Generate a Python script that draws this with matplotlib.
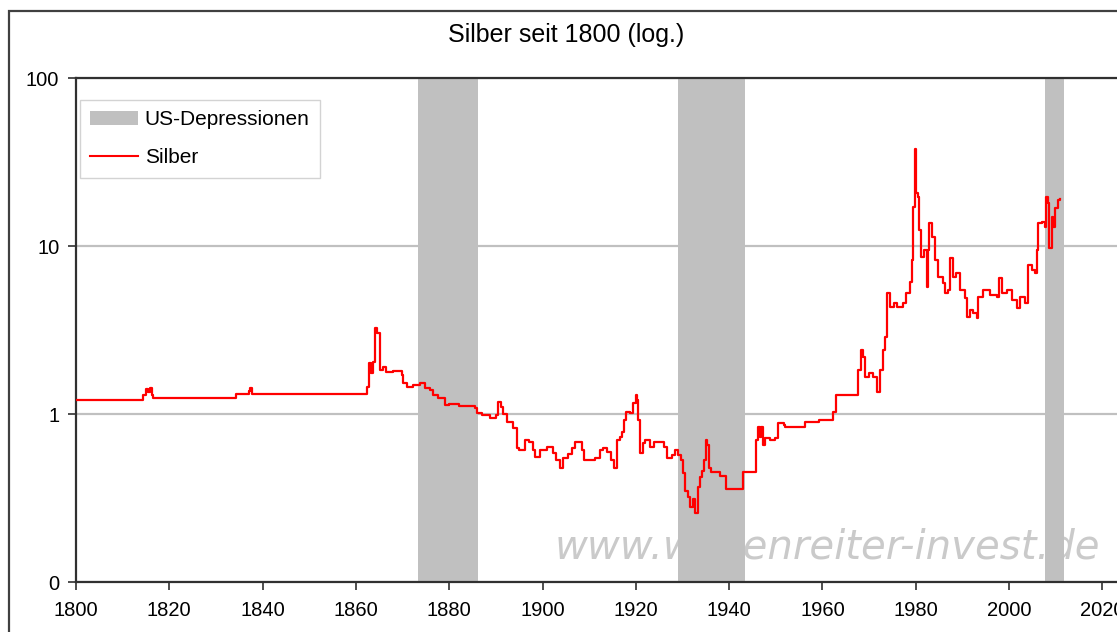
import matplotlib
matplotlib.use("Agg")
import matplotlib.pyplot as plt
from matplotlib.patches import Rectangle, Patch
from matplotlib.lines import Line2D

plt.rcParams['font.family'] = ['Liberation Sans', 'DejaVu Sans']

# ---- data ----
years = [1800.0, 1814.4, 1814.9, 1815.4, 1815.8, 1816.3, 1816.6, 1834.3, 1837.0, 1837.3,
         1837.7, 1862.4, 1862.8, 1863.2, 1863.6, 1864.0, 1864.6, 1865.2, 1865.8, 1866.5,
         1868.0, 1869.8, 1870.2, 1871.0, 1872.3, 1873.7, 1874.8, 1875.9, 1876.5, 1877.5,
         1879.0, 1880.0, 1882.0, 1884.0, 1885.5, 1886.0, 1887.0, 1888.7, 1890.0, 1890.5,
         1891.0, 1891.5, 1892.4, 1893.7, 1894.5, 1895.0, 1896.2, 1897.2, 1898.0, 1898.4,
         1899.5, 1901.0, 1902.2, 1903.0, 1903.8, 1904.4, 1905.5, 1906.3, 1907.0, 1908.5,
         1909.0, 1910.2, 1911.3, 1912.3, 1913.0, 1913.8, 1914.7, 1915.3, 1916.0, 1916.6,
         1917.0, 1917.5, 1918.0, 1918.7, 1919.4, 1920.0, 1920.2, 1920.5, 1921.0, 1921.5,
         1922.0, 1923.0, 1924.0, 1925.4, 1926.0, 1926.7, 1927.8, 1928.4, 1929.0, 1929.7,
         1930.1, 1930.5, 1931.2, 1931.6, 1932.3, 1932.7, 1933.3, 1933.8, 1934.2, 1934.6,
         1935.1, 1935.3, 1935.7, 1936.1, 1938.0, 1939.3, 1943.0, 1945.8, 1946.2, 1946.6,
         1946.9, 1947.3, 1947.7, 1948.8, 1949.8, 1950.5, 1951.8, 1952.0, 1956.3, 1959.3,
         1962.3, 1963.0, 1967.7, 1968.3, 1968.7, 1969.1, 1970.0, 1970.9, 1971.7, 1972.4,
         1973.0, 1973.4, 1973.9, 1974.5, 1975.3, 1976.0, 1977.3, 1978.0, 1978.8, 1979.2,
         1979.5, 1979.8, 1980.1, 1980.5, 1980.7, 1981.1, 1981.8, 1982.4, 1982.6, 1982.9,
         1983.5, 1984.1, 1984.8, 1985.8, 1986.3, 1986.9, 1987.3, 1988.0, 1988.6, 1989.5,
         1990.6, 1991.0, 1991.6, 1992.3, 1993.1, 1993.3, 1994.5, 1995.9, 1997.4, 1997.9,
         1998.5, 1999.6, 2000.6, 2001.7, 2002.4, 2003.4, 2004.1, 2004.9, 2005.6, 2006.0,
         2006.3, 2007.1, 2007.7, 2007.9, 2008.4, 2008.6, 2009.2, 2009.5, 2009.9, 2010.6,
         2010.9]
silber = [1.21, 1.30, 1.40, 1.35, 1.43, 1.30, 1.25, 1.31, 1.38, 1.43,
          1.31, 1.45, 2.00, 1.75, 2.04, 3.25, 3.03, 1.83, 1.90, 1.78,
          1.80, 1.70, 1.53, 1.45, 1.49, 1.53, 1.43, 1.39, 1.30, 1.25,
          1.13, 1.15, 1.12, 1.12, 1.08, 1.01, 0.98, 0.95, 0.99, 1.18,
          1.10, 1.00, 0.90, 0.83, 0.63, 0.61, 0.70, 0.68, 0.61, 0.555,
          0.61, 0.64, 0.585, 0.53, 0.48, 0.55, 0.58, 0.63, 0.68, 0.61,
          0.53, 0.53, 0.55, 0.61, 0.63, 0.59, 0.53, 0.48, 0.70, 0.73,
          0.78, 0.92, 1.03, 1.01, 1.16, 1.30, 1.21, 0.92, 0.585, 0.67,
          0.70, 0.64, 0.68, 0.68, 0.64, 0.55, 0.57, 0.61, 0.57, 0.53,
          0.445, 0.35, 0.32, 0.28, 0.31, 0.257, 0.37, 0.42, 0.46, 0.53,
          0.70, 0.65, 0.48, 0.45, 0.43, 0.36, 0.45, 0.70, 0.84, 0.73,
          0.84, 0.65, 0.72, 0.70, 0.72, 0.88, 0.86, 0.84, 0.90, 0.92,
          1.03, 1.30, 1.83, 2.40, 2.18, 1.66, 1.75, 1.66, 1.35, 1.83,
          2.40, 2.87, 5.25, 4.33, 4.60, 4.33, 4.57, 5.25, 6.10, 8.30,
          17.0, 38.0, 20.7, 19.5, 12.5, 8.6, 9.5, 5.7, 9.5, 13.7,
          11.3, 8.3, 6.55, 6.0, 5.25, 5.5, 8.5, 6.55, 6.9, 5.5,
          4.9, 3.78, 4.16, 4.0, 3.73, 4.97, 5.5, 5.1, 5.0, 6.45,
          5.25, 5.5, 4.77, 4.27, 4.97, 4.57, 7.7, 7.2, 6.9, 9.5,
          13.7, 13.9, 13.0, 19.5, 18.0, 9.7, 14.9, 13.0, 16.8, 18.8,
          19.0]

depression_start = [1873.3, 1929.1, 2007.7]
depression_end = [1886.1, 1943.4, 2011.8]

x_ticks = [1800, 1820, 1840, 1860, 1880, 1900, 1920, 1940, 1960, 1980, 2000, 2020]
y_ticks = [0.1, 1, 10, 100]
y_ticklabels = ["0", "1", "10", "100"]

title = "Silber seit 1800 (log.)"
watermark = "www.wellenreiter-invest.de"

# ---- figure ----
W, H = 1117, 632
fig = plt.figure(figsize=(W / 100, H / 100), dpi=100)
fig.patch.set_facecolor("white")

# outer chart border
fig.patches.append(Rectangle((9 / W, -0.2), 1.5, (H - 11) / H + 0.2,
                             transform=fig.transFigure, fill=False,
                             edgecolor="#404040", lw=1.6, zorder=0))

px_per_year = 4.665
left_px, right_px = 76, 1125
top_px, bottom_px = 78, 582
ax = fig.add_axes([left_px / W, (H - bottom_px) / H,
                   (right_px - left_px) / W, (bottom_px - top_px) / H])
ax.set_xlim(1800, 1800 + (right_px - left_px) / px_per_year)
ax.set_yscale("log")
ax.set_ylim(0.1, 100)

ax.set_yticks(y_ticks)
ax.set_yticklabels(y_ticklabels)
ax.yaxis.set_minor_locator(matplotlib.ticker.NullLocator())
ax.set_xticks(x_ticks)
ax.set_xticklabels([str(t) for t in x_ticks])
ax.tick_params(axis="both", direction="out", length=6, width=1.2,
               color="#303030", labelsize=14.5, labelcolor="black")
ax.tick_params(axis="x", pad=8)
ax.tick_params(axis="y", pad=6)

for s in ["top", "left", "bottom"]:
    ax.spines[s].set_color("#303030")
    ax.spines[s].set_linewidth(1.6)
ax.spines["right"].set_visible(False)

ax.grid(axis="y", which="major", color="#C0C0C0", lw=1.6, zorder=0)
ax.grid(axis="x", visible=False)
ax.set_axisbelow(True)

# watermark (below the bands)
ax.text(1800 + (827 - left_px) / px_per_year, 0.1 * 10 ** ((582 - 547) / 168),
        watermark, ha="center", va="center", fontsize=29, style="italic",
        family="DejaVu Sans", color="#CACACA", zorder=1)

for s0, s1 in zip(depression_start, depression_end):
    ax.axvspan(s0, s1, color="#C0C0C0", lw=0, zorder=2)

ax.plot(years, silber, color="#FF0000", lw=1.6, drawstyle="steps-post", zorder=3)

fig.text(566 / W, 1 - 35 / H, title, ha="center", va="center", fontsize=18)

handles = [Patch(facecolor="#C0C0C0", edgecolor="none"),
           Line2D([], [], color="#FF0000", lw=1.5)]
leg = fig.legend(handles, ["US-Depressionen", "Silber"], loc="upper left",
                 bbox_to_anchor=(80 / W, 1 - 100 / H), bbox_transform=fig.transFigure,
                 fontsize=15, frameon=True, fancybox=False, borderaxespad=0,
                 handlelength=2.3, handleheight=0.7, handletextpad=0.3,
                 labelspacing=0.9, borderpad=0.5)
leg.get_frame().set_edgecolor("#C8C8C8")
leg.get_frame().set_linewidth(1.0)

fig.savefig("out.png", dpi=100)
